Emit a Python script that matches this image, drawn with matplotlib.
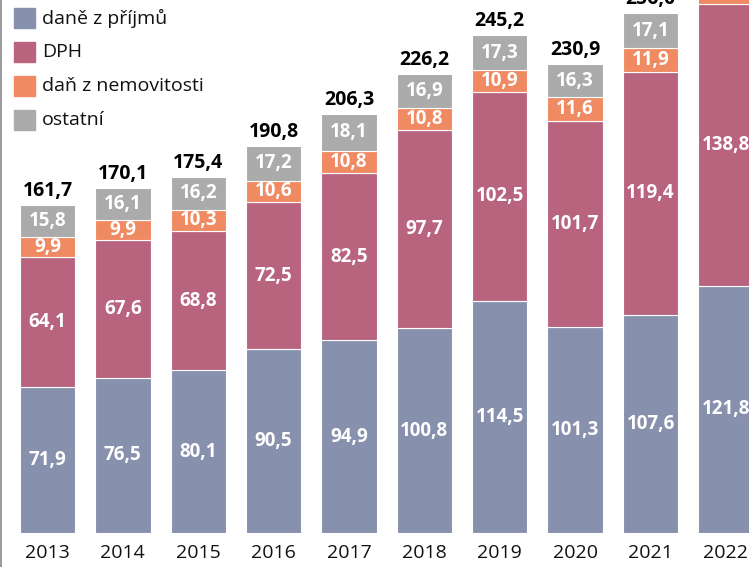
import matplotlib
matplotlib.use("Agg")
import matplotlib.pyplot as plt
from matplotlib.patches import Rectangle
import numpy as np

years = ["2013", "2014", "2015", "2016", "2017", "2018", "2019", "2020", "2021", "2022"]
dane_z_prijmu = [71.9, 76.5, 80.1, 90.5, 94.9, 100.8, 114.5, 101.3, 107.6, 121.8]
dph = [64.1, 67.6, 68.8, 72.5, 82.5, 97.7, 102.5, 101.7, 119.4, 138.8]
dan_z_nemovitosti = [9.9, 9.9, 10.3, 10.6, 10.8, 10.8, 10.9, 11.6, 11.9, 12.4]
ostatni = [15.8, 16.1, 16.2, 17.2, 18.1, 16.9, 17.3, 16.3, 17.1, 17.9]
totals = [161.7, 170.1, 175.4, 190.8, 206.3, 226.2, 245.2, 230.9, 256.0, 290.9]

series = [dane_z_prijmu, dph, dan_z_nemovitosti, ostatni]
names = ["daně z příjmů", "DPH", "daň z nemovitosti", "ostatní"]
colors = ["#8790AD", "#B8647F", "#F08A62", "#ABABAB"]

plt.rcParams['font.family'] = ['Open Sans', 'DejaVu Sans']

fig = plt.figure(figsize=(7.49, 5.67), dpi=100)
ax = fig.add_axes([0, 34 / 567, 1, 533 / 567])
ax.set_xlim(-0.630, 9.306)
ax.set_ylim(0, 262.5)
ax.axis("off")

x = np.arange(len(years))
bottom = np.zeros(len(years))
for vals, col in zip(series, colors):
    vals = np.array(vals)
    ax.bar(x, vals, bottom=bottom, width=0.735, color=col,
           edgecolor="white", linewidth=0.8, clip_on=False)
    for xi, b, v in zip(x, bottom, vals):
        ax.text(xi, b + v / 2, f"{v:.1f}".replace(".", ","), ha="center", va="center",
                color="white", fontsize=13.5, fontweight="bold", clip_on=False)
    bottom = bottom + vals

for xi, b, t in zip(x, bottom, totals):
    ax.text(xi, b + 2.0, f"{t:.1f}".replace(".", ","), ha="center", va="bottom",
            color="black", fontsize=14, fontweight="bold", clip_on=False)

for xi, y in zip(x, years):
    fig.text((xi + 0.630) / 9.936, 14 / 567, y, ha="center", va="center",
             fontsize=14, color="#111111")

# legend
for i, (n, col) in enumerate(zip(names, colors)):
    ytop = 8 + i * 34
    fig.patches.append(Rectangle((14 / 749, 1 - (ytop + 20) / 567), 21 / 749, 20 / 567,
                                 transform=fig.transFigure, color=col))
    fig.text(42 / 749, 1 - (ytop + 10) / 567, n, ha="left", va="center",
             fontsize=14, color="#111111")

# left border
fig.add_artist(plt.Line2D([0.5 / 749, 0.5 / 749], [0, 1], transform=fig.transFigure,
                          color="#888888", linewidth=1.2))

fig.savefig("out.png", dpi=100)
